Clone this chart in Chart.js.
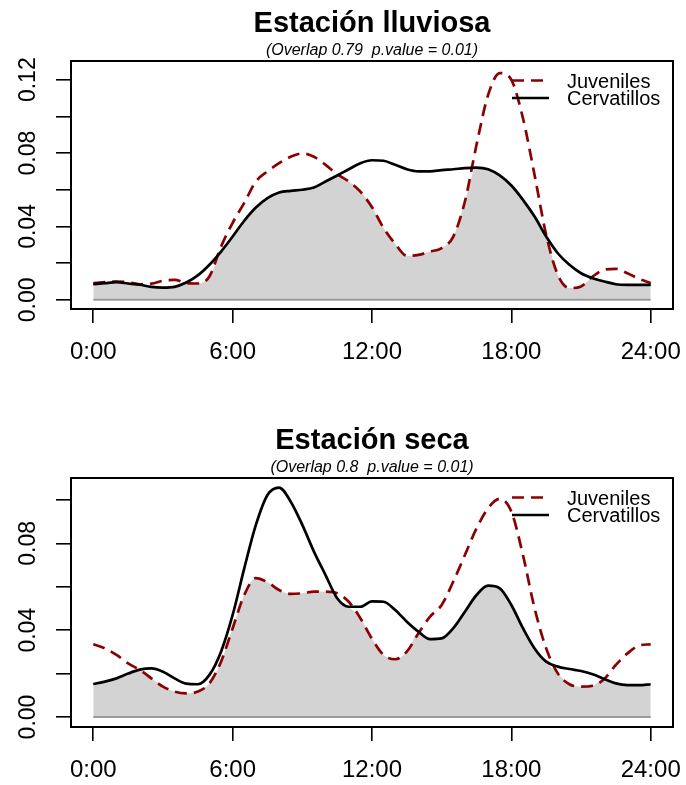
<!DOCTYPE html>
<html>
<head>
<meta charset="utf-8">
<script src="https://cdn.jsdelivr.net/npm/chart.js@4"></script>
<style>
  body { margin: 0; background: #fff; }
  canvas { display: block; }
</style>
</head>
<body>
<canvas id="lluviosa" width="686" height="392"></canvas>
<canvas id="seca" width="686" height="393"></canvas>
<script>
const hours = [0, 0.5, 1, 1.5, 2, 2.5, 3, 3.5, 4, 4.5, 5, 5.5, 6, 6.5, 7, 7.5, 8, 8.5, 9, 9.5,
  10, 10.5, 11, 11.5, 12, 12.5, 13, 13.5, 14, 14.5, 15, 15.5, 16, 16.5, 17, 17.5, 18, 18.5, 19, 19.5,
  20, 20.5, 21, 21.5, 22, 22.5, 23, 23.5, 24];

// Estación lluviosa
const juvenilesLluviosa = [0.0091, 0.0096, 0.0100, 0.0096, 0.0085, 0.0088, 0.0104, 0.0109, 0.0092, 0.0089,
  0.0127, 0.0290, 0.0420, 0.0529, 0.0645, 0.0700, 0.0745, 0.0780, 0.0798, 0.0780,
  0.0736, 0.0685, 0.0645, 0.0590, 0.0505, 0.0391, 0.0305, 0.0240, 0.0245, 0.0263,
  0.0282, 0.0345, 0.0536, 0.0845, 0.1117, 0.1236, 0.1199, 0.0990, 0.0681, 0.0354,
  0.0136, 0.0064, 0.0073, 0.0127, 0.0164, 0.0169, 0.0145, 0.0114, 0.0091];
const cervatillosLluviosa = [0.0085, 0.0091, 0.0096, 0.0089, 0.0082, 0.0071, 0.0067, 0.0071, 0.0094, 0.0133,
  0.0191, 0.0263, 0.0345, 0.0431, 0.0503, 0.0554, 0.0585, 0.0594, 0.0600, 0.0612,
  0.0645, 0.0678, 0.0712, 0.0745, 0.0761, 0.0758, 0.0736, 0.0712, 0.0700, 0.0700,
  0.0707, 0.0712, 0.0718, 0.0721, 0.0712, 0.0678, 0.0623, 0.0545, 0.0454, 0.0345,
  0.0254, 0.0191, 0.0145, 0.0118, 0.0100, 0.0085, 0.0082, 0.0082, 0.0082];

// Estación seca
const juvenilesSeca = [0.0335, 0.0316, 0.0286, 0.0247, 0.0217, 0.0178, 0.0140, 0.0117, 0.0109, 0.0117,
  0.0155, 0.0255, 0.0409, 0.0562, 0.0640, 0.0621, 0.0585, 0.0567, 0.0570, 0.0578,
  0.0578, 0.0570, 0.0531, 0.0455, 0.0360, 0.0286, 0.0266, 0.0301, 0.0386, 0.0462,
  0.0516, 0.0624, 0.0746, 0.0869, 0.0962, 0.1005, 0.0946, 0.0746, 0.0501, 0.0316,
  0.0201, 0.0151, 0.0140, 0.0144, 0.0175, 0.0240, 0.0293, 0.0329, 0.0335];
const cervatillosSeca = [0.0152, 0.0163, 0.0178, 0.0200, 0.0218, 0.0224, 0.0209, 0.0178, 0.0154, 0.0151,
  0.0194, 0.0301, 0.0470, 0.0685, 0.0885, 0.1023, 0.1057, 0.0992, 0.0885, 0.0762,
  0.0654, 0.0547, 0.0508, 0.0508, 0.0533, 0.0531, 0.0493, 0.0439, 0.0393, 0.0359,
  0.0362, 0.0409, 0.0485, 0.0562, 0.0605, 0.0593, 0.0516, 0.0409, 0.0316, 0.0255,
  0.0232, 0.0221, 0.0212, 0.0197, 0.0175, 0.0155, 0.0147, 0.0147, 0.0151];

const xTicks = [0, 6, 12, 18, 24];
const xTickLabels = ["0:00", "6:00", "12:00", "18:00", "24:00"];
const yTicksLluviosa = [0, 0.02, 0.04, 0.06, 0.08, 0.10, 0.12];
const yLabelsLluviosa = ["0.00", "", "0.04", "", "0.08", "", "0.12"];
const yTicksSeca = [0, 0.02, 0.04, 0.06, 0.08, 0.10];
const yLabelsSeca = ["0.00", "", "0.04", "", "0.08", ""];
const seriesNames = ["Juveniles", "Cervatillos"];

const FONT = "'Liberation Sans', Arial, sans-serif";
const RED = "#8b0000";

const pts = (ys) => hours.map((h, i) => ({ x: h, y: ys[i] }));

// R-style decorations: box, rotated y labels, title, subtitle, legend
const rDecor = {
  id: "rDecor",
  afterDraw(chart, args, o) {
    const { ctx, chartArea: a, scales } = chart;
    ctx.save();
    ctx.strokeStyle = "#000";
    ctx.lineWidth = 2;
    ctx.strokeRect(a.left, a.top, a.right - a.left, a.bottom - a.top);

    ctx.fillStyle = "#000";
    ctx.font = "23px " + FONT;
    ctx.textAlign = "center";
    ctx.textBaseline = "alphabetic";
    o.yTicks.forEach((v, i) => {
      if (!o.yLabels[i]) return;
      const y = scales.y.getPixelForValue(v);
      ctx.save();
      ctx.translate(35, y);
      ctx.rotate(-Math.PI / 2);
      ctx.fillText(o.yLabels[i], 0, 0);
      ctx.restore();
    });

    const cx = (a.left + a.right) / 2;
    ctx.font = "bold 29px " + FONT;
    ctx.fillText(o.title, cx, a.top - 29);
    ctx.font = "italic 16px " + FONT;
    ctx.fillText(o.subtitle, cx, a.top - 6);

    // legend
    ctx.lineWidth = 2.6;
    ctx.strokeStyle = RED;
    ctx.setLineDash([12, 7]);
    ctx.beginPath();
    ctx.moveTo(512, a.top + 19.5);
    ctx.lineTo(549, a.top + 19.5);
    ctx.stroke();
    ctx.setLineDash([]);
    ctx.strokeStyle = "#000";
    ctx.beginPath();
    ctx.moveTo(512, a.top + 37);
    ctx.lineTo(549, a.top + 37);
    ctx.stroke();
    ctx.font = "20px " + FONT;
    ctx.textAlign = "left";
    ctx.textBaseline = "middle";
    ctx.fillText(seriesNames[0], 567, a.top + 21);
    ctx.fillText(seriesNames[1], 567, a.top + 38.5);
    ctx.restore();
  }
};

function makeChart(id, juv, cerv, yMin, yMax, yTicks, yLabels, title, subtitle, xAxisHeight) {
  return new Chart(document.getElementById(id), {
    type: "line",
    data: {
      datasets: [
        { label: seriesNames[1], data: pts(cerv), borderColor: "#000", borderWidth: 2.7,
          pointRadius: 0, cubicInterpolationMode: "monotone", fill: false },
        { label: seriesNames[0], data: pts(juv), borderColor: RED, borderWidth: 2.7, borderDash: [12, 7],
          pointRadius: 0, cubicInterpolationMode: "monotone", fill: false },
        { label: "base", data: [{ x: hours[0], y: 0 }, { x: hours[hours.length - 1], y: 0 }],
          borderColor: "#9a9a9a", borderWidth: 2, pointRadius: 0, fill: false },
        { label: "overlap", data: hours.map((h, i) => ({ x: h, y: Math.min(juv[i], cerv[i]) })),
          borderWidth: 0, borderColor: "rgba(0,0,0,0)", backgroundColor: "#d3d3d3",
          pointRadius: 0, cubicInterpolationMode: "monotone", fill: "origin" }
      ]
    },
    options: {
      responsive: false,
      animation: false,
      devicePixelRatio: 1,
      layout: { padding: { left: 0, right: 13, top: id === "lluviosa" ? 61 : 86, bottom: 0 } },
      plugins: {
        legend: { display: false },
        tooltip: { enabled: false },
        rDecor: { title, subtitle, yTicks, yLabels }
      },
      scales: {
        x: {
          type: "linear", min: -0.96, max: 24.96,
          afterBuildTicks: (s) => { s.ticks = xTicks.map((v) => ({ value: v })); },
          afterFit: (s) => { s.height = xAxisHeight; s.paddingLeft = 0; s.paddingRight = 0; },
          ticks: { callback: (v, i) => xTickLabels[i], color: "#000", padding: 15,
            font: { family: FONT, size: 24 }, maxRotation: 0 },
          grid: { drawOnChartArea: false, tickLength: 14, color: "#000", lineWidth: 1.6 },
          border: { display: false }
        },
        y: {
          min: yMin, max: yMax,
          afterBuildTicks: (s) => { s.ticks = yTicks.map((v) => ({ value: v })); },
          afterFit: (s) => { s.width = 71; s.paddingTop = 0; s.paddingBottom = 0; },
          ticks: { display: false },
          grid: { drawOnChartArea: false, tickLength: 15, color: "#000", lineWidth: 1.6 },
          border: { display: false }
        }
      }
    },
    plugins: [rDecor]
  });
}

makeChart("lluviosa", juvenilesLluviosa, cervatillosLluviosa, -0.005, 0.1302,
  yTicksLluviosa, yLabelsLluviosa, "Estación lluviosa", "(Overlap 0.79  p.value = 0.01)", 83);
makeChart("seca", juvenilesSeca, cervatillosSeca, -0.0046, 0.1101,
  yTicksSeca, yLabelsSeca, "Estación seca", "(Overlap 0.8  p.value = 0.01)", 58);
</script>
</body>
</html>
